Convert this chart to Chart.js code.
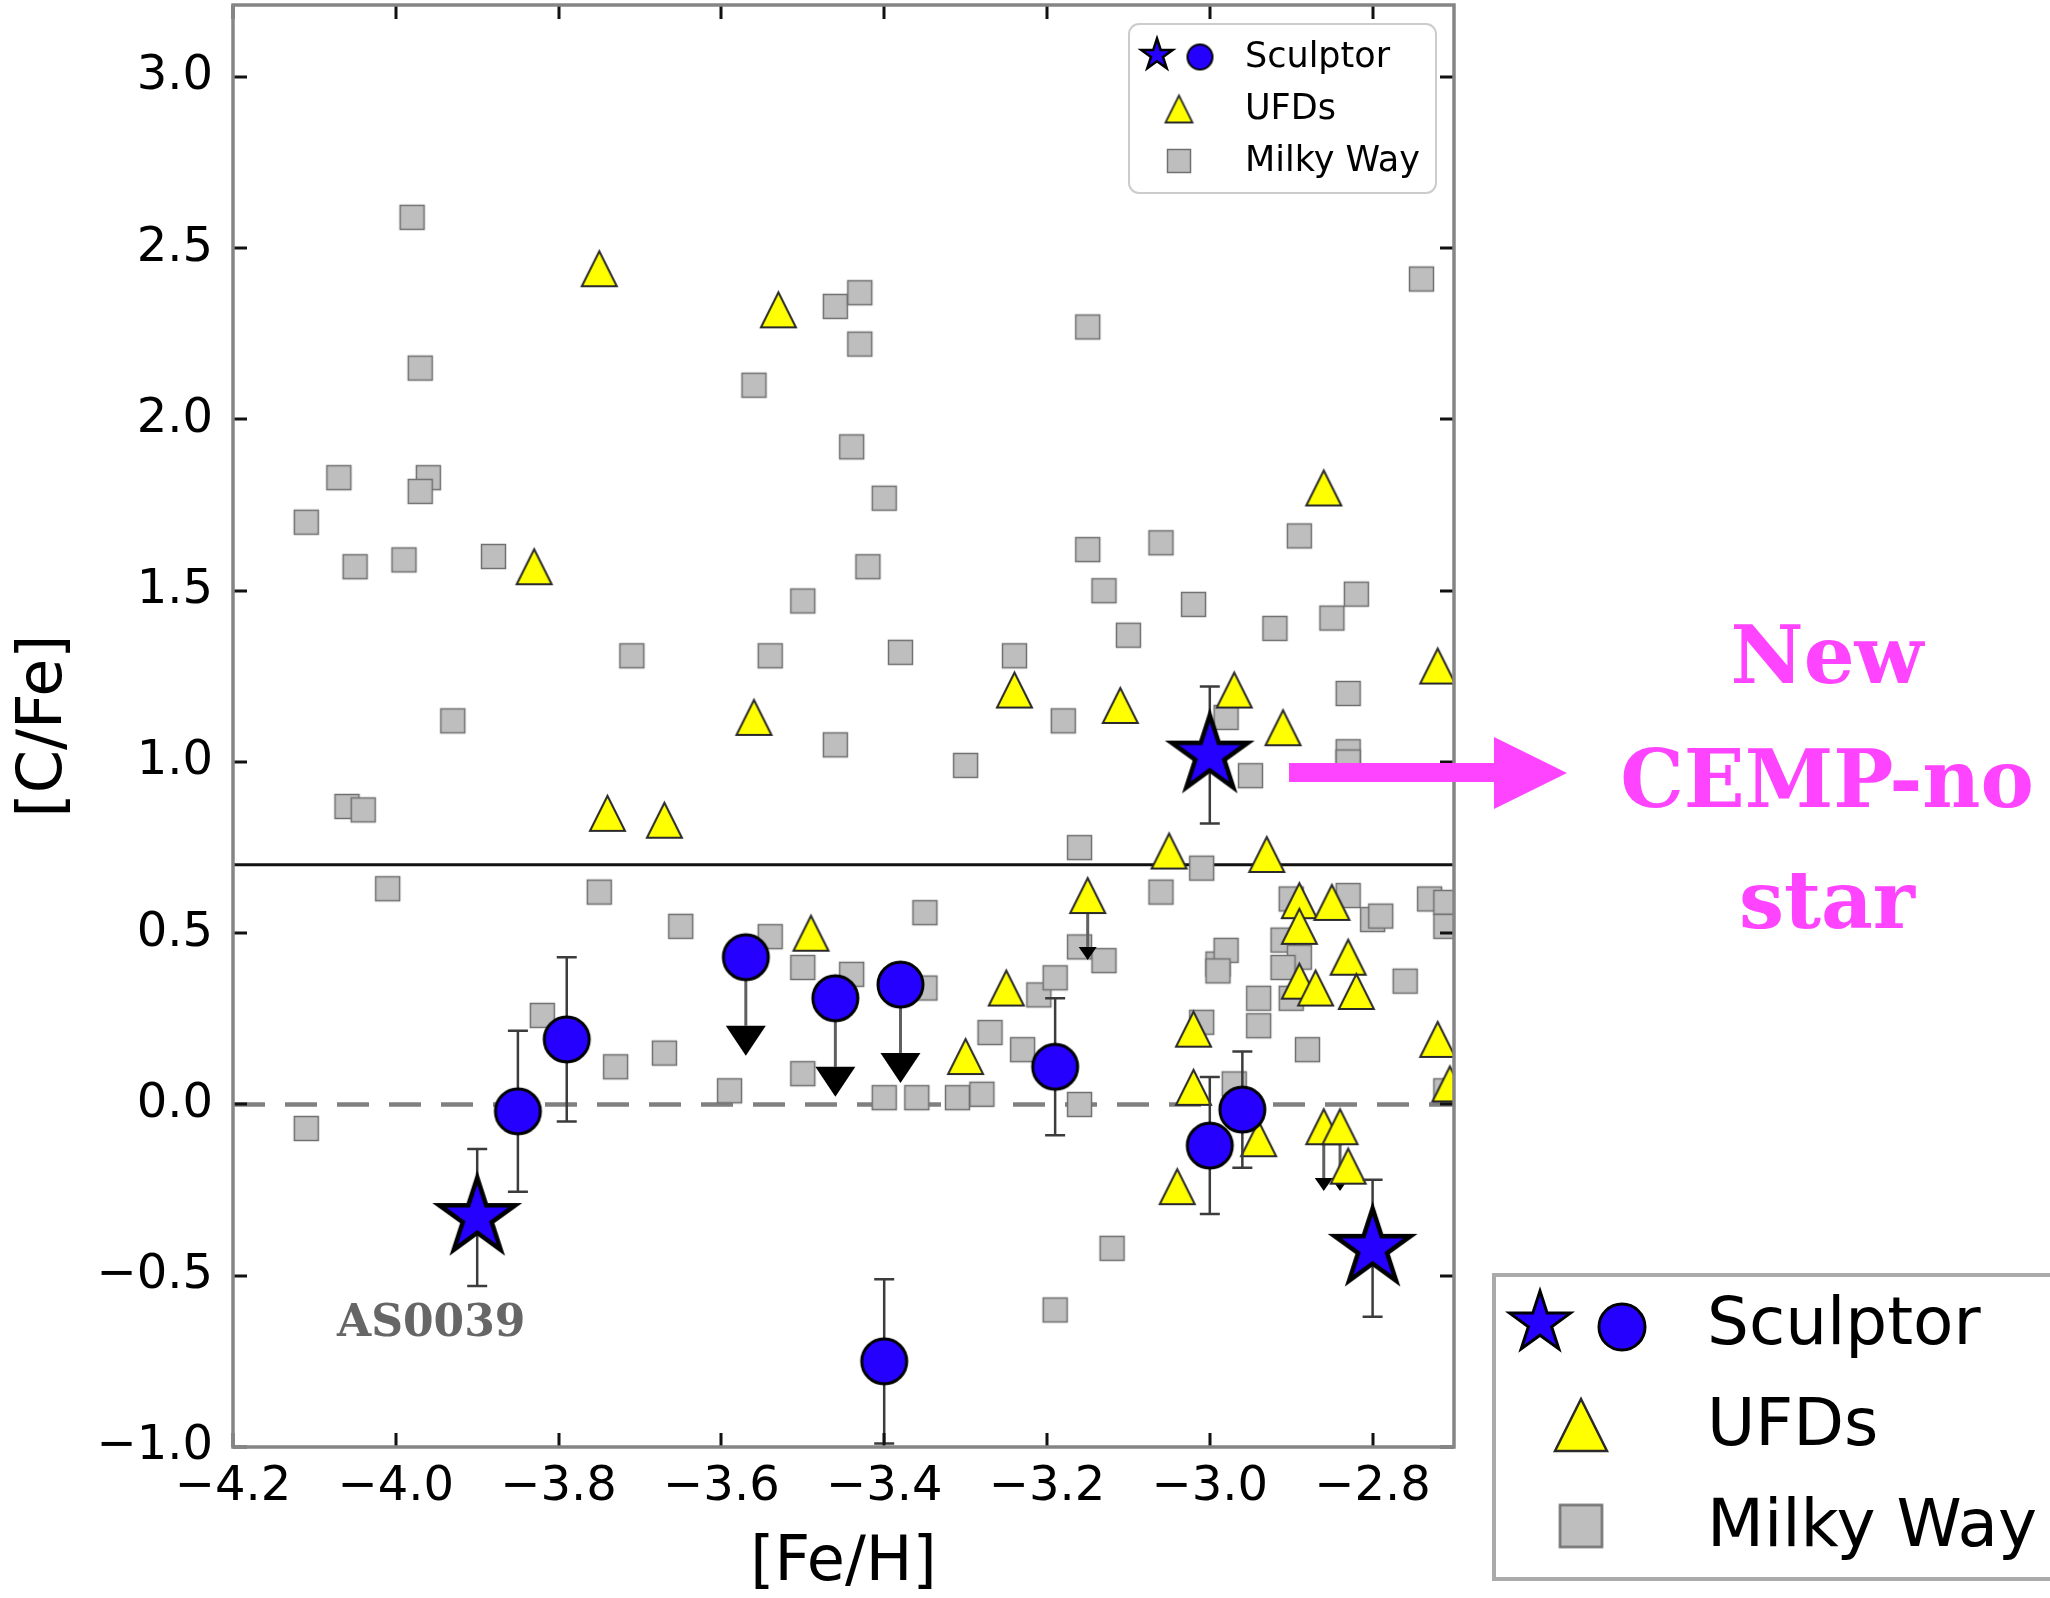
<!DOCTYPE html>
<html>
<head>
<meta charset="utf-8">
<title>[C/Fe] vs [Fe/H]</title>
<script src="https://cdn.jsdelivr.net/npm/chart.js@4/dist/chart.umd.min.js"></script>
<style>
  html, body { margin: 0; padding: 0; background: #fff; }
  canvas { display: block; }
</style>
</head>
<body>
<canvas id="cfe-chart" width="2050" height="1598"></canvas>
<script>
// Sculptor, star symbols
var starFeH = [-3.90, -3.00, -2.80];
var starCFe = [-0.33, 1.02, -0.42];
var starErr = [0.20, 0.20, 0.20];

// Sculptor, circles (upper limits flagged)
var sclFeH = [-3.85, -3.79, -3.57, -3.46, -3.38, -3.19, -3.40, -3.00, -2.96];
var sclCFe = [-0.02, 0.19, 0.43, 0.31, 0.35, 0.11, -0.75, -0.12, -0.015];
var sclErr = [0.235, 0.24, 0, 0, 0, 0.20, 0.24, 0.20, 0.17];
var sclUpper = [false, false, true, true, true, false, false, false, false];

// Ultra-faint dwarfs
var ufdFeH = [-3.75, -3.53, -3.83, -3.56, -3.74, -3.67, -3.24, -3.11, -2.97, -2.91,
  -2.86, -2.72, -3.05, -2.93, -3.49, -3.15, -3.25, -3.30, -2.89, -2.85,
  -2.89, -2.83, -2.89, -2.87, -2.82, -2.72, -3.02, -2.705, -3.02, -3.04,
  -2.94, -2.86, -2.84, -2.83];
var ufdCFe = [2.44, 2.32, 1.57, 1.13, 0.85, 0.83, 1.21, 1.165, 1.21, 1.10,
  1.80, 1.28, 0.74, 0.73, 0.50, 0.61, 0.34, 0.14, 0.595, 0.59,
  0.52, 0.43, 0.36, 0.34, 0.33, 0.19, 0.22, 0.06, 0.05, -0.24,
  -0.10, -0.065, -0.065, -0.18];
var ufdUpper = [false, false, false, false, false, false, false, false, false, false,
  false, false, false, false, false, true, false, false, false, false,
  false, false, false, false, false, false, false, false, false, false,
  false, true, true, false];

// Milky Way halo stars
var mwFeH = [-3.98, -3.97, -4.07, -3.96, -3.97, -4.11, -4.05, -3.99, -3.88, -3.71,
  -3.93, -4.06, -4.04, -4.01, -3.75, -3.65, -3.82, -3.73, -4.11,
  -3.56, -3.46, -3.43, -3.43, -3.44, -3.40, -3.42, -3.50, -3.54, -3.38,
  -3.46, -3.30,
  -3.35, -3.54, -3.50, -3.44, -3.35, -3.21, -3.19, -3.27, -3.23, -3.67,
  -3.59, -3.50, -3.40, -3.36, -3.31, -3.28, -3.16, -3.12, -3.19,
  -3.15, -3.15, -3.13, -3.10, -3.06, -3.02, -3.24, -3.18, -2.74, -2.89,
  -2.92, -2.85, -2.82, -2.83, -2.83, -2.83, -2.95, -2.98, -3.16, -3.01,
  -3.06,
  -2.90, -2.83, -2.73, -2.71, -2.71, -2.80, -2.79, -2.91, -2.89, -2.91,
  -2.99, -2.98, -2.99, -2.94, -2.94, -2.90, -2.88, -2.76, -3.01, -2.71,
  -3.16, -3.13, -2.97];
var mwCFe = [2.59, 2.15, 1.83, 1.83, 1.79, 1.70, 1.57, 1.59, 1.60, 1.31,
  1.12, 0.87, 0.86, 0.63, 0.62, 0.52, 0.26, 0.11, -0.07,
  2.10, 2.33, 2.37, 2.22, 1.92, 1.77, 1.57, 1.47, 1.31, 1.32,
  1.05, 0.99,
  0.56, 0.49, 0.40, 0.38, 0.34, 0.32, 0.37, 0.21, 0.16, 0.15,
  0.04, 0.09, 0.02, 0.02, 0.02, 0.03, 0.00, -0.42, -0.60,
  2.27, 1.62, 1.50, 1.37, 1.64, 1.46, 1.31, 1.12, 2.41, 1.66,
  1.39, 1.42, 1.49, 1.20, 1.03, 1.00, 0.96, 1.13, 0.75, 0.69,
  0.62,
  0.60, 0.61, 0.60, 0.59, 0.52, 0.54, 0.55, 0.48, 0.43, 0.40,
  0.41, 0.45, 0.39, 0.31, 0.23, 0.31, 0.16, 0.36, 0.24, 0.04,
  0.46, 0.42, 0.06];

var xTicks = [-4.2, -4.0, -3.8, -3.6, -3.4, -3.2, -3.0, -2.8];
var yTicks = [-1.0, -0.5, 0.0, 0.5, 1.0, 1.5, 2.0, 2.5, 3.0];
var cempLimit = 0.7;   // [C/Fe] threshold for carbon enhancement
var solarLine = 0.0;

var BLUE = '#2500ff';
var YELLOW = '#ffff00';
var GREY = '#bebebe';
var PINK = '#ff44ff';

function pts(xs, ys) {
  return xs.map(function (v, i) { return { x: v, y: ys[i] }; });
}

// marker sprites, drawn once and handed to Chart.js as pointStyle
function sprite(size, paint) {
  var c = document.createElement('canvas');
  c.width = size; c.height = size;
  var g = c.getContext('2d');
  g.translate(size / 2, size / 2);
  paint(g);
  return c;
}
function starMarker(R, lw) {
  return sprite(Math.ceil(2 * R + 6 * lw), function (g) {
    g.beginPath();
    for (var i = 0; i < 10; i++) {
      var r = i % 2 ? R * 0.381966 : R;
      var a = -Math.PI / 2 + i * Math.PI / 5;
      g.lineTo(r * Math.cos(a), r * Math.sin(a));
    }
    g.closePath();
    g.fillStyle = BLUE; g.fill();
    g.lineJoin = 'miter'; g.lineWidth = lw; g.strokeStyle = '#000'; g.stroke();
  });
}
function circleMarker(r, lw) {
  return sprite(Math.ceil(2 * r + 2 * lw + 2), function (g) {
    g.beginPath(); g.arc(0, 0, r, 0, 2 * Math.PI);
    g.fillStyle = BLUE; g.fill();
    g.lineWidth = lw; g.strokeStyle = '#000'; g.stroke();
  });
}
function triangleMarker(s, lw) {
  return sprite(Math.ceil(2 * s + 4 * lw + 2), function (g) {
    g.beginPath(); g.moveTo(0, -s); g.lineTo(-s, s); g.lineTo(s, s); g.closePath();
    g.fillStyle = YELLOW; g.fill();
    g.lineJoin = 'miter'; g.lineWidth = lw; g.strokeStyle = '#2a2a2a'; g.stroke();
  });
}
function squareMarker(h, lw) {
  return sprite(Math.ceil(2 * h + 2 * lw + 2), function (g) {
    g.fillStyle = GREY; g.fillRect(-h, -h, 2 * h, 2 * h);
    g.lineWidth = lw; g.strokeStyle = '#707070'; g.strokeRect(-h, -h, 2 * h, 2 * h);
  });
}

var mk = {
  star: starMarker(40, 4.5), circle: circleMarker(22.5, 3),
  tri: triangleMarker(17.5, 2), sq: squareMarker(12, 1.5),
  // inside legend
  lStar: starMarker(16.5, 2.5), lCircle: circleMarker(12.5, 2),
  lTri: triangleMarker(13.5, 1.8), lSq: squareMarker(11.5, 1.5),
  // side legend
  oStar: starMarker(32, 3), oCircle: circleMarker(23, 3),
  oTri: triangleMarker(26, 2.5), oSq: squareMarker(21, 2.5)
};

function fmtTick(v) {
  return Number(v).toFixed(1).replace('-', '\u2212');
}

var extras = {
  id: 'extras',
  // error bars and upper-limit arrows sit just under their own markers
  beforeDatasetDraw: function (chart, args) {
    var ds = chart.data.datasets[args.index];
    if (!ds.errors && !ds.limits) return;
    var ctx = chart.ctx, xs = chart.scales.x, ys = chart.scales.y;
    ctx.save();
    ds.data.forEach(function (p, i) {
      var px = xs.getPixelForValue(p.x), py = ys.getPixelForValue(p.y);
      if (ds.errors && ds.errors[i] > 0) {
        var top = ys.getPixelForValue(p.y + ds.errors[i]);
        var bot = ys.getPixelForValue(p.y - ds.errors[i]);
        ctx.strokeStyle = '#3c3c3c'; ctx.lineWidth = 2.5;
        ctx.beginPath();
        ctx.moveTo(px, top); ctx.lineTo(px, bot);
        ctx.moveTo(px - 10, top); ctx.lineTo(px + 10, top);
        ctx.moveTo(px - 10, bot); ctx.lineTo(px + 10, bot);
        ctx.stroke();
      }
      if (ds.limits && ds.limits[i]) {
        var end = ys.getPixelForValue(p.y - ds.limitLength);
        var hw = ds.limitHead[0], hh = ds.limitHead[1];
        ctx.strokeStyle = '#606060'; ctx.lineWidth = 3;
        ctx.beginPath(); ctx.moveTo(px, py); ctx.lineTo(px, end); ctx.stroke();
        ctx.fillStyle = '#000';
        ctx.beginPath();
        ctx.moveTo(px - hw, end); ctx.lineTo(px + hw, end); ctx.lineTo(px, end + hh);
        ctx.closePath(); ctx.fill();
      }
    });
    ctx.restore();
  },
  // axes frame with inward ticks on all four sides
  afterDatasetsDraw: function (chart) {
    var ctx = chart.ctx, a = chart.chartArea, xs = chart.scales.x, ys = chart.scales.y;
    ctx.save();
    ctx.strokeStyle = '#111'; ctx.lineWidth = 3;
    ctx.beginPath();
    xs.ticks.forEach(function (t) {
      var px = Math.round(xs.getPixelForValue(t.value));
      ctx.moveTo(px, a.bottom); ctx.lineTo(px, a.bottom - 14);
      ctx.moveTo(px, a.top); ctx.lineTo(px, a.top + 14);
    });
    ys.ticks.forEach(function (t) {
      var py = Math.round(ys.getPixelForValue(t.value));
      ctx.moveTo(a.left, py); ctx.lineTo(a.left + 14, py);
      ctx.moveTo(a.right, py); ctx.lineTo(a.right - 14, py);
    });
    ctx.stroke();
    ctx.strokeStyle = '#858585'; ctx.lineWidth = 3.5;
    ctx.strokeRect(a.left, a.top, a.right - a.left, a.bottom - a.top);
    ctx.restore();
  },
  afterDraw: function (chart) {
    var ctx = chart.ctx, a = chart.chartArea;
    ctx.save();

    // legend inside the axes
    var bx = a.right - 325, by = a.top + 19, bw = 307, bh = 169;
    ctx.beginPath();
    ctx.roundRect(bx, by, bw, bh, 10);
    ctx.fillStyle = 'rgba(255,255,255,0.8)'; ctx.fill();
    ctx.strokeStyle = '#cccccc'; ctx.lineWidth = 2; ctx.stroke();
    function put(img, x, y) { ctx.drawImage(img, x - img.width / 2, y - img.height / 2); }
    put(mk.lStar, bx + 28, by + 31);
    put(mk.lCircle, bx + 71, by + 33);
    put(mk.lTri, bx + 50, by + 85);
    put(mk.lSq, bx + 50, by + 137);
    ctx.fillStyle = '#000'; ctx.font = '35px "DejaVu Sans"';
    ctx.textAlign = 'left'; ctx.textBaseline = 'alphabetic';
    ctx.fillText('Sculptor', bx + 116, by + 43);
    ctx.fillText('UFDs', bx + 116, by + 95);
    ctx.fillText('Milky Way', bx + 116, by + 147);

    // side legend
    ctx.strokeStyle = '#aaaaaa'; ctx.lineWidth = 4;
    ctx.strokeRect(1494, 1275, 600, 304);
    put(mk.oStar, 1540, 1323);
    put(mk.oCircle, 1622, 1327);
    put(mk.oTri, 1581, 1425);
    put(mk.oSq, 1581, 1526);
    ctx.fillStyle = '#000'; ctx.font = '66px "DejaVu Sans"';
    ctx.fillText('Sculptor', 1707, 1344);
    ctx.fillText('UFDs', 1707, 1445);
    ctx.fillText('Milky Way', 1707, 1546);

    // star label
    var xs = chart.scales.x, ys = chart.scales.y;
    var sx = xs.getPixelForValue(starFeH[0]), sy = ys.getPixelForValue(starCFe[0]);
    ctx.fillStyle = '#666666'; ctx.font = 'bold 44px "DejaVu Serif"';
    ctx.textAlign = 'center';
    ctx.fillText('AS0039', sx - 46, sy + 118);

    // callout for the carbon-enhanced star
    ctx.fillStyle = PINK;
    ctx.beginPath();
    ctx.moveTo(1289, 763); ctx.lineTo(1494, 763); ctx.lineTo(1494, 737);
    ctx.lineTo(1567, 773); ctx.lineTo(1494, 809); ctx.lineTo(1494, 782);
    ctx.lineTo(1289, 782); ctx.closePath(); ctx.fill();
    ctx.font = 'bold 80px "DejaVu Serif"';
    ctx.fillText('New', 1827, 683);
    ctx.fillText('CEMP-no', 1827, 807);
    ctx.fillText('star', 1827, 928);
    ctx.restore();
  }
};

Chart.defaults.font.family = '"DejaVu Sans", sans-serif';
Chart.defaults.color = '#000';

var ctx = document.getElementById('cfe-chart').getContext('2d');
var chart = new Chart(ctx, {
  type: 'scatter',
  data: {
    datasets: [
      {
        label: 'Sculptor stars', data: pts(starFeH, starCFe), errors: starErr,
        pointStyle: mk.star, pointRadius: 42, order: 1, clip: 0
      },
      {
        label: 'Sculptor', data: pts(sclFeH, sclCFe), errors: sclErr,
        limits: sclUpper, limitLength: 0.2, limitHead: [20, 30],
        pointStyle: mk.circle, pointRadius: 25, order: 2, clip: 0
      },
      {
        label: 'UFDs', data: pts(ufdFeH, ufdCFe),
        limits: ufdUpper, limitLength: 0.15, limitHead: [9, 13],
        pointStyle: mk.tri, pointRadius: 21, order: 3, clip: 0
      },
      {
        label: 'Milky Way', data: pts(mwFeH, mwCFe),
        pointStyle: mk.sq, pointRadius: 14, order: 4, clip: 0
      },
      {
        label: 'CEMP', data: [{ x: -4.2, y: cempLimit }, { x: -2.7, y: cempLimit }],
        showLine: true, pointRadius: 0, borderColor: '#111', borderWidth: 3, order: 5
      },
      {
        label: 'solar', data: [{ x: -4.2, y: solarLine }, { x: -2.7, y: solarLine }],
        showLine: true, pointRadius: 0, borderColor: '#808080', borderWidth: 4.5,
        borderDash: [32, 20], order: 6
      }
    ]
  },
  options: {
    responsive: false,
    animation: false,
    events: [],
    layout: { autoPadding: false, padding: { left: 0, top: 5, right: 596, bottom: 0 } },
    plugins: { legend: { display: false }, tooltip: { enabled: false } },
    scales: {
      x: {
        type: 'linear', min: -4.2, max: -2.7,
        afterBuildTicks: function (s) { s.ticks = xTicks.map(function (v) { return { value: v }; }); },
        afterFit: function (s) { s.height = 151; s.paddingLeft = 0; s.paddingRight = 0; },
        grid: { display: false, drawTicks: false },
        border: { display: false },
        ticks: { font: { size: 48 }, padding: 12, maxRotation: 0, autoSkip: false, callback: fmtTick },
        title: { display: true, text: '[Fe/H]', font: { size: 62, lineHeight: 1 }, padding: { top: 0, bottom: 3 } }
      },
      y: {
        type: 'linear', min: -1.0, max: 3.21,
        afterBuildTicks: function (s) { s.ticks = yTicks.map(function (v) { return { value: v }; }); },
        afterFit: function (s) { s.width = 233; s.paddingTop = 0; s.paddingBottom = 0; },
        grid: { display: false, drawTicks: false },
        border: { display: false },
        ticks: { font: { size: 48 }, padding: 20, autoSkip: false, callback: fmtTick },
        title: { display: true, text: '[C/Fe]', font: { size: 62, lineHeight: 1 }, padding: { top: 14, bottom: 0 } }
      }
    }
  },
  plugins: [extras]
});
</script>
</body>
</html>
